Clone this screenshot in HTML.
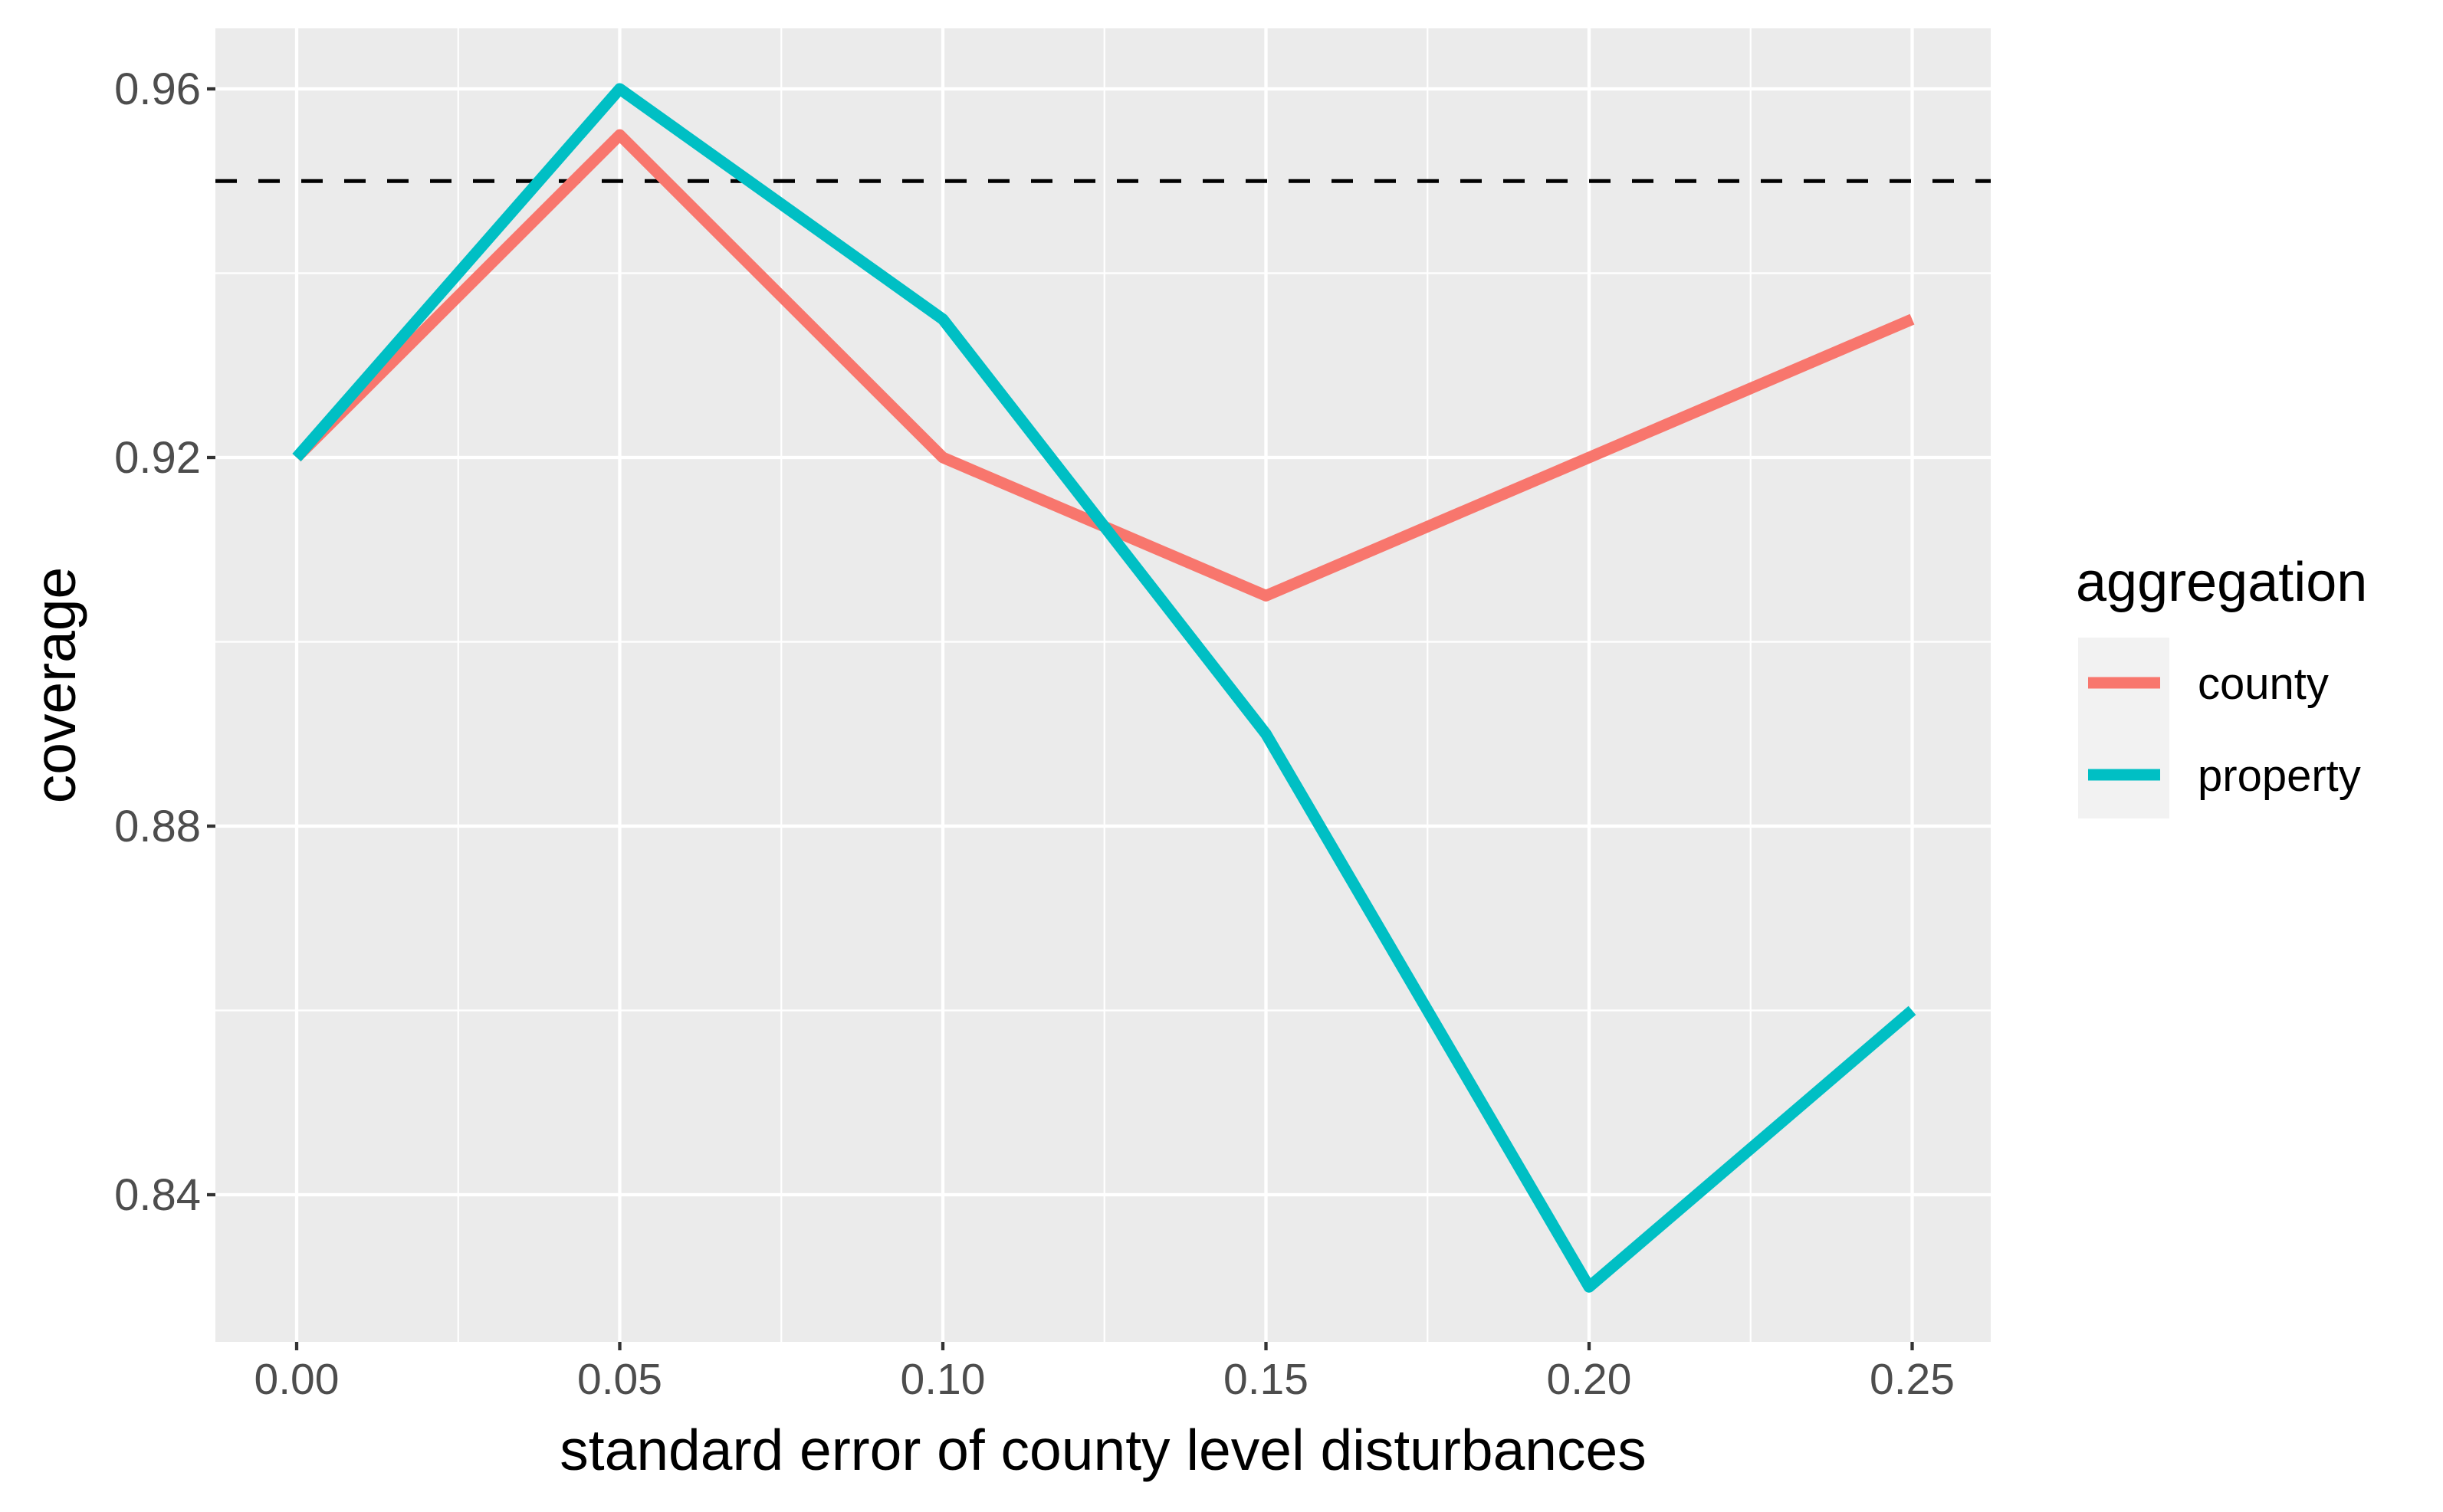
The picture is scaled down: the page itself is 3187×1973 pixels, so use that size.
<!DOCTYPE html>
<html><head><meta charset="utf-8"><style>
body{margin:0;background:#fff}
svg text{font-family:"Liberation Sans",Arial,sans-serif}
</style></head><body>
<svg id="chart" width="3187" height="1968" viewBox="0 0 3187 1968" xmlns="http://www.w3.org/2000/svg">
<rect x="281" y="37" width="2316" height="1714" fill="#EBEBEB"/>
<g id="grid"></g>
<g id="series"></g>
<g id="axes"></g>
<text x="1439" y="1918" font-size="75" text-anchor="middle" fill="#000">standard error of county level disturbances</text>
<text x="0" y="0" font-size="75" text-anchor="middle" fill="#000" transform="translate(98,894) rotate(-90)">coverage</text>
<g>
<text x="2708" y="784" font-size="72" fill="#000">aggregation</text>
<rect x="2711" y="832" width="119" height="236" fill="#F2F2F2"/>
<line x1="2724" y1="891" x2="2818" y2="891" stroke="#F8766D" stroke-width="15"/>
<line x1="2724" y1="1011" x2="2818" y2="1011" stroke="#00BFC4" stroke-width="15"/>
<text x="2867" y="912" font-size="58" fill="#000">county</text>
<text x="2867" y="1032" font-size="58" fill="#000">property</text>
</g>
</svg>
<script>
const xValues = [0, 0.05, 0.10, 0.15, 0.20, 0.25];
const countyValues = [0.92, 0.955, 0.92, 0.905, 0.92, 0.935];
const propertyValues = [0.92, 0.96, 0.935, 0.89, 0.83, 0.86];
const xTickLabels = ["0.00","0.05","0.10","0.15","0.20","0.25"];
const yTicks = [0.84, 0.88, 0.92, 0.96];
const yTickLabels = ["0.84","0.88","0.92","0.96"];
const referenceLevel = 0.95;

const NS = "http://www.w3.org/2000/svg";
const L=281, R=2597, T=37, B=1751;
function xs(v){return 387 + v/0.05*421.5;}
function ys(v){return 1559 - (v-0.84)/0.04*481;}
function mk(tag, attrs, parent){const e=document.createElementNS(NS,tag);for(const k in attrs)e.setAttribute(k,attrs[k]);parent.appendChild(e);return e;}
const grid=document.getElementById('grid'), series=document.getElementById('series'), axes=document.getElementById('axes');

for(let i=0;i<xValues.length-1;i++){
  const xv=(xValues[i]+xValues[i+1])/2;
  const g=mk('line',{x1:xs(xv),x2:xs(xv),y1:T,y2:B,stroke:'#fff','stroke-width':2.2},grid);
  
  
}
for(let i=0;i<yTicks.length-1;i++){
  const yv=(yTicks[i]+yTicks[i+1])/2;
  const g=mk('line',{x1:L,x2:R,y1:ys(yv),y2:ys(yv),stroke:'#fff','stroke-width':2.2},grid);
  
  
}
xValues.forEach((v,i)=>{
  const g=mk('line',{x1:xs(v),x2:xs(v),y1:T,y2:B,stroke:'#fff','stroke-width':4.3},grid);
  
  
  const t=mk('line',{x1:xs(v),x2:xs(v),y1:B,y2:B+11,stroke:'#333','stroke-width':4.3},axes);
  
  
  const tx=mk('text',{x:xs(v),y:B+68,'font-size':57,'text-anchor':'middle',fill:'#4D4D4D'},axes);
  tx.textContent=xTickLabels[i];
  
  
});
yTicks.forEach((v,i)=>{
  const g=mk('line',{x1:L,x2:R,y1:ys(v),y2:ys(v),stroke:'#fff','stroke-width':4.3},grid);
  
  
  const t=mk('line',{x1:L-11,x2:L,y1:ys(v),y2:ys(v),stroke:'#333','stroke-width':4.3},axes);
  
  
  const tx=mk('text',{x:L-19,y:ys(v)+20,'font-size':58,'text-anchor':'end',fill:'#4D4D4D'},axes);
  tx.textContent=yTickLabels[i];
  
  
});
const ref=mk('line',{x1:L,x2:R,y1:ys(referenceLevel),y2:ys(referenceLevel),stroke:'#000','stroke-width':5,'stroke-dasharray':'28 28'},series);


function line(vals,color,name){
  const p=mk('polyline',{points:vals.map((v,i)=>xs(xValues[i])+','+ys(v)).join(' '),fill:'none',stroke:color,'stroke-width':15,'stroke-linejoin':'round'},series);
  
  
}
line(countyValues,'#F8766D','county-line');
line(propertyValues,'#00BFC4','property-line');
</script>
</body></html>
